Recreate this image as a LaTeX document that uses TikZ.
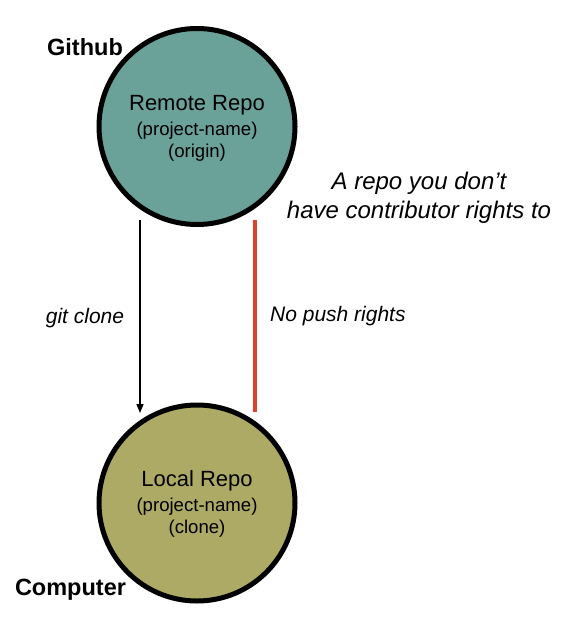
\documentclass[tikz,border=0pt]{standalone}
\usepackage{fontspec}
\setmainfont{Liberation Sans}
\usetikzlibrary{arrows.meta}
\definecolor{tealfill}{RGB}{106,162,153}
\definecolor{olivefill}{RGB}{172,170,100}
\definecolor{redline}{RGB}{222,64,48}
\tikzset{
  repo/.style={circle, draw=black, line width=5pt, minimum size=196pt, inner sep=0pt},
  titletext/.style={inner sep=0pt, font=\fontsize{22}{26}\selectfont},
  subtext/.style={inner sep=0pt, font=\fontsize{18.6}{22}\selectfont},
  place/.style={inner sep=0pt, font=\bfseries\fontsize{23.5}{28}\selectfont},
  note/.style={inner sep=0pt, font=\itshape\fontsize{21}{26}\selectfont},
  bignote/.style={inner sep=0pt, font=\itshape\fontsize{24}{29}\selectfont, align=center},
  clonearrow/.style={line width=1.5pt, -{Triangle[length=9pt,width=7pt]}},
  nopush/.style={line width=4.5pt, draw=redline},
}
\begin{document}
\begin{tikzpicture}[x=1pt,y=-1pt]
\useasboundingbox (0,0) rectangle (561,620);
% circles
\node[repo, fill=tealfill] (remote) at (197,126.5) {};
\node[repo, fill=olivefill] (local) at (197,503) {};
% texts inside
\node[titletext] (remoteT) at (197,105) {Remote Repo};
\node[subtext] (remoteA) at (197,131) {(project-name)};
\node[subtext] (remoteB) at (197,153) {(origin)};
\node[titletext] (localT) at (197,481) {Local Repo};
\node[subtext] (localA) at (197,507) {(project-name)};
\node[subtext] (localB) at (197,529) {(clone)};
% place labels
\node[place] (github) at (85,47) {Github};
\node[place] (computer) at (70.5,590) {Computer};
% connectors
\coordinate (cloneS) at (140,220);
\coordinate (cloneE) at (140,413);
\draw[clonearrow] (cloneS) -- (cloneE);
\coordinate (pushS) at (255,220);
\coordinate (pushE) at (255,412);
\draw[nopush] (pushS) -- (pushE);
% notes
\node[note] (gitclone) at (85,318) {git clone};
\node[note, anchor=west] (nopushlbl) at (270,316) {No push rights};
\node[bignote] (contrib) at (419,198) {A repo you don’t\\have contributor rights to};
\end{tikzpicture}
\end{document}
